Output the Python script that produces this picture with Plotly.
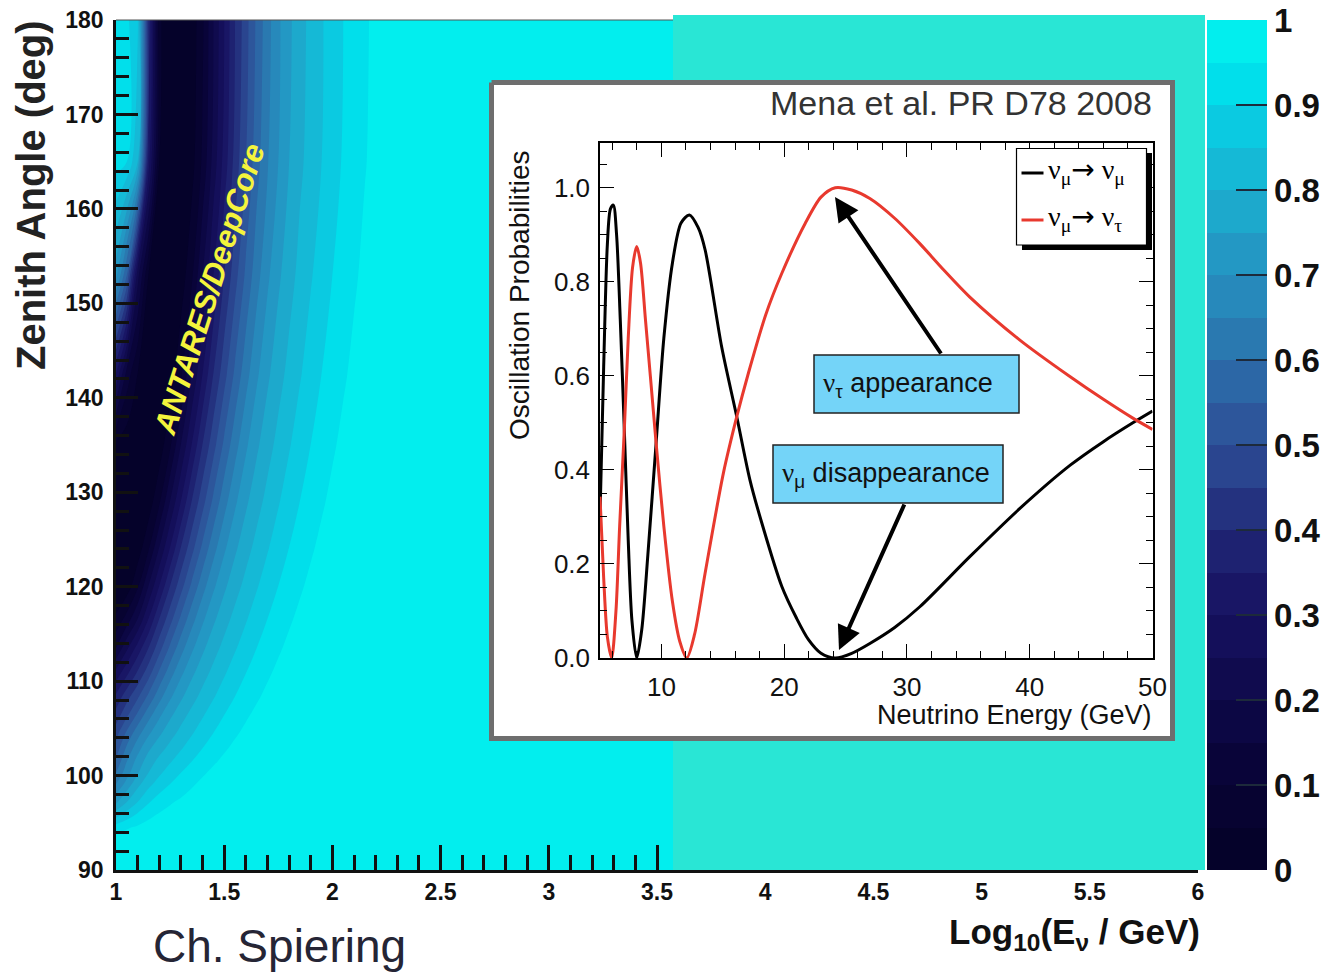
import plotly.graph_objects as go

W, H = 1331, 972

# ---------------- main map: nu_mu survival probability ----------------
LOG_E = [1.00, 1.05, 1.10, 1.15, 1.20, 1.25, 1.30, 1.35, 1.40, 1.45, 1.50, 1.55, 1.60,
         1.65, 1.70, 1.75, 1.80, 1.85, 1.90, 1.95, 2.00, 2.05, 2.10, 2.15, 2.20,
         2.40, 2.70, 3.00, 6.00]
ZENITH = [90, 92.9, 93.6, 94.5, 95.7, 97.2, 99.1, 100.3, 101.5, 102.9, 104.5, 106.4, 108.4,
          110.8, 113.5, 116.6, 120.1, 124.2, 129.1, 135.1, 142.6, 153, 165, 180]
P_MUMU = [
    [0.99, 0.992, 0.994, 0.995, 0.996, 0.997, 0.998, 0.999, 0.999, 1, 1, 1, 1, 1, 1, 1, 1, 1, 1, 1, 1, 1, 1, 1, 1, 1, 1, 1, 1],
    [0.975, 0.98, 0.984, 0.987, 0.99, 0.992, 0.994, 0.995, 0.996, 0.997, 0.998, 0.999, 0.999, 1, 1, 1, 1, 1, 1, 1, 1, 1, 1, 1, 1, 1, 1, 1, 1],
    [0.958, 0.967, 0.975, 0.98, 0.984, 0.987, 0.99, 0.992, 0.994, 0.995, 0.996, 0.997, 0.998, 0.999, 0.999, 1, 1, 1, 1, 1, 1, 1, 1, 1, 1, 1, 1, 1, 1],
    [0.925, 0.945, 0.958, 0.967, 0.975, 0.98, 0.984, 0.987, 0.99, 0.992, 0.994, 0.995, 0.996, 0.997, 0.998, 0.999, 0.999, 1, 1, 1, 1, 1, 1, 1, 1, 1, 1, 1, 1],
    [0.84, 0.88, 0.915, 0.942, 0.958, 0.967, 0.975, 0.98, 0.984, 0.987, 0.99, 0.992, 0.994, 0.995, 0.996, 0.997, 0.998, 0.999, 0.999, 1, 1, 1, 1, 1, 1, 1, 1, 1, 1],
    [0.74, 0.80, 0.85, 0.895, 0.925, 0.945, 0.958, 0.967, 0.975, 0.98, 0.984, 0.987, 0.99, 0.992, 0.994, 0.995, 0.996, 0.997, 0.998, 0.999, 0.999, 1, 1, 1, 1, 1, 1, 1, 1],
    [0.65, 0.72, 0.785, 0.835, 0.872, 0.90, 0.925, 0.945, 0.958, 0.967, 0.975, 0.98, 0.984, 0.987, 0.99, 0.992, 0.994, 0.995, 0.996, 0.997, 0.998, 0.999, 0.999, 1, 1, 1, 1, 1, 1],
    [0.60, 0.68, 0.745, 0.80, 0.84, 0.875, 0.90, 0.925, 0.945, 0.958, 0.967, 0.975, 0.98, 0.984, 0.987, 0.99, 0.992, 0.994, 0.995, 0.996, 0.997, 0.998, 0.999, 0.999, 1, 1, 1, 1, 1],
    [0.56, 0.65, 0.72, 0.775, 0.815, 0.845, 0.875, 0.90, 0.925, 0.945, 0.958, 0.967, 0.975, 0.98, 0.984, 0.987, 0.99, 0.992, 0.994, 0.995, 0.996, 0.997, 0.998, 0.999, 0.999, 1, 1, 1, 1],
    [0.52, 0.61, 0.68, 0.74, 0.78, 0.815, 0.845, 0.875, 0.90, 0.925, 0.945, 0.958, 0.967, 0.975, 0.98, 0.984, 0.987, 0.99, 0.992, 0.994, 0.995, 0.996, 0.997, 0.998, 0.999, 1, 1, 1, 1],
    [0.48, 0.56, 0.63, 0.69, 0.74, 0.78, 0.815, 0.845, 0.875, 0.90, 0.925, 0.945, 0.958, 0.967, 0.975, 0.98, 0.984, 0.987, 0.99, 0.992, 0.994, 0.995, 0.996, 0.997, 0.998, 1, 1, 1, 1],
    [0.42, 0.49, 0.56, 0.63, 0.69, 0.74, 0.78, 0.815, 0.845, 0.875, 0.90, 0.925, 0.945, 0.958, 0.967, 0.975, 0.98, 0.984, 0.987, 0.99, 0.992, 0.994, 0.995, 0.996, 0.997, 1, 1, 1, 1],
    [0.36, 0.43, 0.49, 0.56, 0.63, 0.69, 0.74, 0.78, 0.815, 0.845, 0.875, 0.90, 0.925, 0.945, 0.958, 0.967, 0.975, 0.98, 0.984, 0.987, 0.99, 0.992, 0.994, 0.995, 0.996, 0.999, 1, 1, 1],
    [0.27, 0.34, 0.41, 0.48, 0.56, 0.63, 0.69, 0.74, 0.78, 0.815, 0.845, 0.875, 0.90, 0.925, 0.945, 0.958, 0.967, 0.975, 0.98, 0.984, 0.987, 0.99, 0.992, 0.994, 0.995, 0.999, 1, 1, 1],
    [0.15, 0.24, 0.32, 0.40, 0.48, 0.56, 0.63, 0.69, 0.74, 0.78, 0.815, 0.845, 0.875, 0.90, 0.925, 0.945, 0.958, 0.967, 0.975, 0.98, 0.984, 0.987, 0.99, 0.992, 0.994, 0.998, 1, 1, 1],
    [0.06, 0.12, 0.20, 0.30, 0.40, 0.48, 0.56, 0.63, 0.69, 0.74, 0.78, 0.815, 0.845, 0.875, 0.90, 0.925, 0.945, 0.958, 0.967, 0.975, 0.98, 0.984, 0.987, 0.99, 0.992, 0.997, 1, 1, 1],
    [0.00, 0.02, 0.09, 0.20, 0.30, 0.40, 0.48, 0.56, 0.63, 0.69, 0.74, 0.78, 0.815, 0.845, 0.875, 0.90, 0.925, 0.945, 0.958, 0.967, 0.975, 0.98, 0.984, 0.987, 0.99, 0.996, 1, 1, 1],
    [0.01, 0.00, 0.02, 0.09, 0.20, 0.30, 0.40, 0.48, 0.56, 0.63, 0.69, 0.74, 0.78, 0.815, 0.845, 0.875, 0.90, 0.925, 0.945, 0.958, 0.967, 0.975, 0.98, 0.984, 0.987, 0.995, 1, 1, 1],
    [0.02, 0.01, 0.00, 0.02, 0.09, 0.20, 0.30, 0.40, 0.48, 0.56, 0.63, 0.69, 0.74, 0.78, 0.815, 0.845, 0.875, 0.90, 0.925, 0.945, 0.958, 0.967, 0.975, 0.98, 0.984, 0.994, 0.999, 1, 1],
    [0.04, 0.02, 0.01, 0.00, 0.02, 0.09, 0.20, 0.30, 0.40, 0.48, 0.56, 0.63, 0.69, 0.74, 0.78, 0.815, 0.845, 0.875, 0.90, 0.925, 0.945, 0.958, 0.967, 0.975, 0.98, 0.992, 0.999, 1, 1],
    [0.30, 0.13, 0.05, 0.01, 0.00, 0.02, 0.09, 0.20, 0.30, 0.40, 0.48, 0.56, 0.63, 0.69, 0.74, 0.78, 0.815, 0.845, 0.875, 0.90, 0.925, 0.945, 0.958, 0.967, 0.975, 0.99, 0.998, 1, 1],
    [0.72, 0.55, 0.22, 0.05, 0.01, 0.00, 0.02, 0.09, 0.20, 0.30, 0.40, 0.48, 0.56, 0.63, 0.69, 0.74, 0.78, 0.815, 0.845, 0.875, 0.90, 0.925, 0.945, 0.958, 0.967, 0.987, 0.997, 1, 1],
    [0.92, 0.90, 0.80, 0.33, 0.05, 0.01, 0.00, 0.03, 0.11, 0.22, 0.32, 0.42, 0.50, 0.58, 0.645, 0.70, 0.75, 0.79, 0.82, 0.85, 0.88, 0.905, 0.93, 0.948, 0.96, 0.985, 0.996, 1, 1],
    [0.92, 0.91, 0.86, 0.40, 0.06, 0.01, 0.00, 0.02, 0.09, 0.20, 0.30, 0.40, 0.48, 0.56, 0.63, 0.69, 0.74, 0.78, 0.815, 0.845, 0.875, 0.90, 0.925, 0.945, 0.958, 0.984, 0.996, 1, 1],
]
assert len(P_MUMU) == len(ZENITH) and all(len(r) == len(LOG_E) for r in P_MUMU)

MAIN_X_TICKS = [1, 1.5, 2, 2.5, 3, 3.5, 4, 4.5, 5, 5.5, 6]
MAIN_Y_TICKS = [90, 100, 110, 120, 130, 140, 150, 160, 170, 180]
CBAR_TICKS = [0, 0.1, 0.2, 0.3, 0.4, 0.5, 0.6, 0.7, 0.8, 0.9, 1]
CBAR_LABELS = ["0", "0.1", "0.2", "0.3", "0.4", "0.5", "0.6", "0.7", "0.8", "0.9", "1"]

# ---------------- inset: oscillation probabilities ----------------
E_MUMU = [5.0, 5.3, 5.6, 5.85, 6.09, 6.35, 6.65, 6.98, 7.3, 7.6,
          7.99, 8.4, 8.9, 9.57, 10.2, 10.9, 11.6, 12.28, 13.0, 13.56,
          14.92, 16.14, 17.2, 18.18, 19.81, 21.0, 21.98, 23.0, 24.16, 25.5,
          26.98, 29.0, 31.05, 35.1, 39.2, 43.3, 46.0, 48.4, 50.0]
P_MUMU_1D = [0.30, 0.62, 0.88, 0.955, 0.963, 0.90, 0.72, 0.485, 0.25, 0.08,
             0.0, 0.06, 0.22, 0.457, 0.68, 0.84, 0.925, 0.942, 0.915, 0.868,
             0.66, 0.513, 0.38, 0.287, 0.152, 0.085, 0.039, 0.01, 0.0, 0.01,
             0.031, 0.065, 0.109, 0.215, 0.318, 0.41, 0.46, 0.50, 0.525]
E_MUTAU = [5.0, 5.3, 5.6, 5.95, 6.3, 6.6, 6.98, 7.3, 7.65, 7.99,
           8.3, 8.7, 9.1, 9.57, 10.2, 10.9, 11.5, 12.07, 12.7, 13.56,
           15.05, 16.14, 17.09, 18.5, 19.81, 21.71, 23.0, 24.16, 25.5, 26.98,
           29.0, 31.05, 33.0, 35.1, 39.2, 43.3, 46.0, 48.4, 50.0]
P_MUTAU = [0.343, 0.17, 0.045, 0.0, 0.1, 0.28, 0.485, 0.68, 0.83, 0.875,
           0.84, 0.72, 0.6, 0.457, 0.28, 0.12, 0.035, 0.0, 0.05, 0.18,
           0.393, 0.513, 0.606, 0.73, 0.818, 0.924, 0.98, 1.0, 0.995, 0.977,
           0.935, 0.881, 0.825, 0.768, 0.676, 0.598, 0.55, 0.51, 0.486]

CSCALE = [
    [0.00, "#05022a"], [0.10, "#090438"], [0.20, "#0f0a4c"], [0.30, "#171262"],
    [0.40, "#212a78"], [0.45, "#283c88"], [0.50, "#2c4e96"], [0.55, "#2d5ea0"],
    [0.60, "#2b6eaa"], [0.65, "#2a7fb4"], [0.70, "#268dbe"], [0.75, "#229cc6"],
    [0.80, "#1cacce"], [0.85, "#14bcd8"], [0.90, "#0acce2"], [0.95, "#00e0ec"],
    [1.00, "#02eeee"],
]

SANS = "Liberation Sans, Arial, sans-serif"
SERIF = "Liberation Serif, Times New Roman, serif"


def px(x):
    return x / W


def py(y):
    return 1 - y / H


fig = go.Figure()

# main contour map
fig.add_trace(go.Contour(
    x=LOG_E, y=ZENITH, z=P_MUMU, zmin=0, zmax=1,
    colorscale=CSCALE,
    contours=dict(start=0.05, end=0.95, size=0.05, coloring="fill", showlines=False),
    line=dict(width=0),
    hoverinfo="skip",
    colorbar=dict(
        x=px(1207), xanchor="left", y=py(20), yanchor="top",
        len=850, lenmode="pixels", thickness=60, thicknessmode="pixels",
        outlinewidth=0, xpad=0, ypad=0,
        ticks="inside", ticklen=31, tickwidth=2, tickcolor="#1d2a3b",
        tickvals=CBAR_TICKS, ticktext=CBAR_LABELS,
        tickfont=dict(family=SANS, size=33, weight="bold", color="#111111"),
    ),
    xaxis="x", yaxis="y",
))

# overlay decoration (pasted rectangle and inset panel background), pixel coordinates
fig.add_trace(go.Scatter(
    x=[673, 1205, 1205, 673, 673], y=[15, 15, 870, 870, 15],
    mode="lines", fill="toself", fillcolor="#29e6d5", line=dict(width=0),
    hoverinfo="skip", showlegend=False, xaxis="x2", yaxis="y2"))
fig.add_trace(go.Scatter(
    x=[491.5, 1172.5, 1172.5, 491.5, 491.5], y=[82.5, 82.5, 738.5, 738.5, 82.5],
    mode="lines", fill="toself", fillcolor="white", line=dict(width=5, color="#6e6e6e"),
    hoverinfo="skip", showlegend=False, xaxis="x2", yaxis="y2"))

# inset curves
fig.add_trace(go.Scatter(
    x=E_MUMU, y=P_MUMU_1D, mode="lines", line=dict(color="black", width=3, shape="spline", smoothing=0.8),
    hoverinfo="skip", showlegend=False, xaxis="x3", yaxis="y3"))
fig.add_trace(go.Scatter(
    x=E_MUTAU, y=P_MUTAU, mode="lines", line=dict(color="#e8392e", width=3, shape="spline", smoothing=0.8),
    hoverinfo="skip", showlegend=False, xaxis="x3", yaxis="y3"))

tickfont_main = dict(family=SANS, size=23, weight="bold", color="#111111")
tickfont_inset = dict(family=SANS, size=26, color="#111111")

fig.update_layout(
    width=W, height=H,
    margin=dict(l=0, r=0, t=0, b=0, autoexpand=False),
    paper_bgcolor="white", plot_bgcolor="rgba(0,0,0,0)",
    showlegend=False,
    xaxis=dict(
        domain=[px(116), px(1198)], range=[1, 6], anchor="y", automargin=False,
        showgrid=False, zeroline=False, showline=True, linecolor="#111111", linewidth=2.5,
        ticks="inside", ticklen=25, tickwidth=2.5, tickcolor="#111111",
        tickvals=MAIN_X_TICKS, tickfont=tickfont_main, ticklabelstandoff=0,
        minor=dict(ticks="inside", ticklen=15, tickwidth=2.5, tickcolor="#111111", dtick=0.1, tick0=1),
    ),
    yaxis=dict(
        domain=[py(870), py(20)], range=[90, 180], anchor="x", automargin=False,
        showgrid=False, zeroline=False, showline=True, linecolor="#111111", linewidth=2.5,
        ticks="inside", ticklen=22, tickwidth=2.5, tickcolor="#111111",
        tickvals=MAIN_Y_TICKS, tickfont=tickfont_main, ticklabelstandoff=5,
        minor=dict(ticks="inside", ticklen=13, tickwidth=2.5, tickcolor="#111111", dtick=2, tick0=90),
    ),
    xaxis2=dict(domain=[0, 1], range=[0, W], visible=False, anchor="y2", fixedrange=True, automargin=False),
    yaxis2=dict(domain=[0, 1], range=[H, 0], visible=False, anchor="x2", fixedrange=True, automargin=False),
    xaxis3=dict(
        domain=[px(600), px(1152.5)], range=[5, 50], anchor="y3", automargin=False,
        showgrid=False, zeroline=False, showline=True, linecolor="black", linewidth=1.5,
        mirror="allticks", ticks="inside", ticklen=14, tickwidth=1.3, tickcolor="black",
        tickvals=[10, 20, 30, 40, 50], tickfont=tickfont_inset, ticklabelstandoff=5,
        minor=dict(ticks="inside", ticklen=7, tickwidth=1.2, tickcolor="black", dtick=2, tick0=0),
    ),
    yaxis3=dict(
        domain=[py(658), py(143)], range=[0, 1.095], anchor="x3", automargin=False,
        showgrid=False, zeroline=False, showline=True, linecolor="black", linewidth=1.5,
        mirror="allticks", ticks="inside", ticklen=14, tickwidth=1.3, tickcolor="black",
        tickvals=[0, 0.2, 0.4, 0.6, 0.8, 1.0], tickformat=".1f", tickfont=tickfont_inset,
        ticklabelstandoff=3,
        minor=dict(ticks="inside", ticklen=7, tickwidth=1.2, tickcolor="black", dtick=0.05, tick0=0),
    ),
)

shapes = []
# thin top border of the main frame (left part, not covered by the pasted rectangle)
shapes.append(dict(type="line", xref="paper", yref="paper", layer="above",
                   x0=px(116), x1=px(673), y0=py(20), y1=py(20),
                   line=dict(color="#555555", width=1.2)))
# label boxes
shapes.append(dict(type="rect", xref="paper", yref="paper", layer="above",
                   x0=px(814), x1=px(1019), y0=py(413), y1=py(355),
                   fillcolor="#74d4f8", line=dict(color="#222222", width=1.5)))
shapes.append(dict(type="rect", xref="paper", yref="paper", layer="above",
                   x0=px(773), x1=px(1003), y0=py(503), y1=py(445),
                   fillcolor="#74d4f8", line=dict(color="#222222", width=1.5)))
# legend box with shadow
shapes.append(dict(type="rect", xref="paper", yref="paper", layer="above",
                   x0=px(1022), x1=px(1152), y0=py(250), y1=py(153),
                   fillcolor="black", line=dict(width=0)))
shapes.append(dict(type="rect", xref="paper", yref="paper", layer="above",
                   x0=px(1016.5), x1=px(1146.5), y0=py(245), y1=py(148.5),
                   fillcolor="white", line=dict(color="black", width=1.2)))
shapes.append(dict(type="line", xref="paper", yref="paper", layer="above",
                   x0=px(1021.5), x1=px(1043.5), y0=py(173), y1=py(173),
                   line=dict(color="black", width=3)))
shapes.append(dict(type="line", xref="paper", yref="paper", layer="above",
                   x0=px(1021.5), x1=px(1043.5), y0=py(220), y1=py(220),
                   line=dict(color="#e8392e", width=3)))
fig.update_layout(shapes=shapes)

nu = '<span style="font-family:Liberation Serif">ν</span>'
arrow = '<span style="font-family:DejaVu Sans">→</span>'
ann = []
ann.append(dict(text="Zenith Angle (deg)", x=px(31), y=py(195), textangle=-90,
                font=dict(family=SANS, size=40, weight="bold", color="#222222")))
ann.append(dict(text="Log<sub>10</sub>(E<sub>ν</sub> / GeV)", x=px(1202), y=py(934), xanchor="right",
                font=dict(family=SANS, size=35, weight="bold", color="#111111")))
ann.append(dict(text="Ch. Spiering", x=px(279), y=py(946),
                font=dict(family=SANS, size=46, color="#252535")))
ann.append(dict(text="ANTARES/DeepCore", x=px(209), y=py(289), textangle=-72.5,
                font=dict(family=SANS, size=31, weight="bold", style="italic", color="#f4f43c")))
ann.append(dict(text="Mena et al. PR D78 2008", x=px(1154), y=py(103), xanchor="right",
                font=dict(family=SANS, size=34, color="#333333")))
ann.append(dict(text="Oscillation Probabilities", x=px(520), y=py(296), textangle=-90,
                font=dict(family=SANS, size=28, color="#111111")))
ann.append(dict(text="Neutrino Energy (GeV)", x=px(1154), y=py(715), xanchor="right",
                font=dict(family=SANS, size=27, color="#111111")))
ann.append(dict(text="ν<sub>μ</sub>" + arrow + " ν<sub>μ</sub>", x=px(1046), y=py(171), xanchor="left",
                font=dict(family=SERIF, size=28, color="black")))
ann.append(dict(text="ν<sub>μ</sub>" + arrow + " ν<sub>τ</sub>", x=px(1046), y=py(218), xanchor="left",
                font=dict(family=SERIF, size=28, color="black")))
ann.append(dict(text=nu + "<sub>τ</sub> appearance", x=px(821), y=py(385), xanchor="left",
                font=dict(family=SANS, size=27, color="#111111")))
ann.append(dict(text=nu + "<sub>μ</sub> disappearance", x=px(780), y=py(475), xanchor="left",
                font=dict(family=SANS, size=27, color="#111111")))
# arrows
ann.append(dict(text="", x=px(835), y=py(197), showarrow=True, arrowhead=2, arrowsize=1.2,
                arrowwidth=4, arrowcolor="black", ax=107, ay=158, standoff=0))
ann.append(dict(text="", x=px(839), y=py(650), showarrow=True, arrowhead=2, arrowsize=1.2,
                arrowwidth=4, arrowcolor="black", ax=66, ay=-147, standoff=0))
for a in ann:
    a.setdefault("xref", "paper")
    a.setdefault("yref", "paper")
    a.setdefault("showarrow", False)
    a.setdefault("xanchor", "center")
    a.setdefault("yanchor", "middle")
fig.update_layout(annotations=ann)

fig.write_html("out.html")
